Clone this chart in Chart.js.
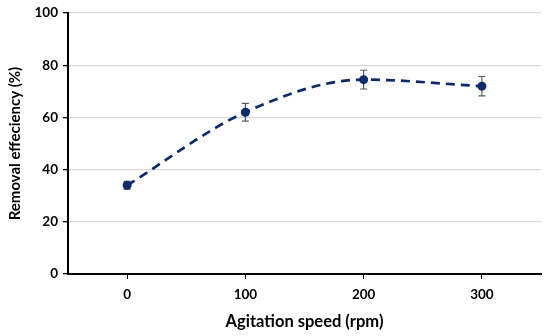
<!DOCTYPE html>
<html><head><meta charset="utf-8">
<script src="https://cdn.jsdelivr.net/npm/chart.js@4/dist/chart.umd.min.js"></script>
<style>html,body{margin:0;padding:0;background:#fff}#c{display:block}</style>
</head><body>
<canvas id="c" width="550" height="336"></canvas>
<script>
const speeds = [0, 100, 200, 300];
const efficiency = [34, 62, 74.5, 72];
const errors = [1.5, 3.4, 3.6, 3.7];
const xTicks = [0, 100, 200, 300];
const yTicks = [0, 20, 40, 60, 80, 100];

const FONT = 'Lato, "Open Sans", sans-serif';
const NAVY = '#0d2a6b';

const errorBars = {
  id: 'errorBars',
  beforeDatasetsDraw(chart) {
    const ctx = chart.ctx, xs = chart.scales.x, ys = chart.scales.y;
    ctx.save();
    ctx.strokeStyle = '#595959';
    ctx.lineWidth = 1.2;
    speeds.forEach((s, i) => {
      const x = xs.getPixelForValue(s);
      const t = ys.getPixelForValue(efficiency[i] + errors[i]);
      const b = ys.getPixelForValue(efficiency[i] - errors[i]);
      ctx.beginPath();
      ctx.moveTo(x, t); ctx.lineTo(x, b);
      ctx.moveTo(x - 3.5, t); ctx.lineTo(x + 3.5, t);
      ctx.moveTo(x - 3.5, b); ctx.lineTo(x + 3.5, b);
      ctx.stroke();
    });
    ctx.restore();
  }
};

new Chart(document.getElementById('c'), {
  type: 'scatter',
  data: {
    datasets: [{
      data: speeds.map((s, i) => ({x: s, y: efficiency[i]})),
      showLine: true,
      cubicInterpolationMode: 'monotone',
      borderColor: NAVY,
      borderWidth: 2.7,
      borderDash: [9, 6],
      pointRadius: 4.5,
      pointBackgroundColor: NAVY,
      pointBorderColor: NAVY,
      pointBorderWidth: 0
    }]
  },
  options: {
    responsive: false,
    animation: false,
    layout: {padding: {top: 0, right: 9, bottom: 0, left: 0}},
    plugins: {legend: {display: false}, tooltip: {enabled: false}},
    scales: {
      x: {
        type: 'linear', min: -50, max: 350,
        afterBuildTicks(axis) { axis.ticks = xTicks.map(v => ({value: v})); },
        afterFit(axis) { axis.height = 62; },
        grid: {display: true, drawOnChartArea: false, drawTicks: true, tickLength: 5, color: '#000', tickColor: '#000'},
        border: {display: true, color: '#000', width: 2},
        ticks: {color: '#000', font: {family: FONT, size: 13.5, weight: 'bold'}, padding: 8, maxRotation: 0},
        title: {display: true, text: 'Agitation speed (rpm)', color: '#000', font: {family: FONT, size: 16.5, weight: 'bold'}, padding: {top: 4, bottom: 4}}
      },
      y: {
        type: 'linear', min: 0, max: 100,
        afterBuildTicks(axis) { axis.ticks = yTicks.map(v => ({value: v})); },
        afterFit(axis) { axis.width = 68; },
        grid: {color: '#d9d9d9', lineWidth: 1.3, drawTicks: true, tickLength: 5, tickColor: '#000'},
        border: {display: true, color: '#000', width: 2},
        ticks: {color: '#000', font: {family: FONT, size: 13.5, weight: 'bold'}, padding: 5},
        title: {display: true, text: 'Removal effeciency (%)', color: '#000', font: {family: FONT, size: 15, weight: 'bold'}, padding: {top: 6, bottom: 4}}
      }
    }
  },
  plugins: [errorBars]
});
</script>
</body></html>
